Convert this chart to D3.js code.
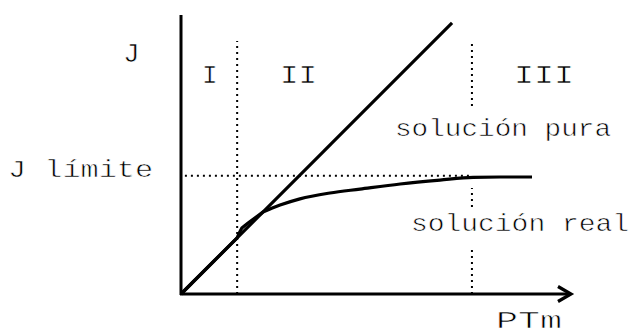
<!DOCTYPE html>
<html>
<head>
<meta charset="utf-8">
<script src="https://cdn.jsdelivr.net/npm/d3@7"></script>
<style>
  html, body { margin: 0; padding: 0; background: #fff; }
  svg { display: block; }
  text { font-family: "Liberation Mono", "Courier New", monospace; fill: #000;
         stroke: #fff; stroke-width: 0.6px; paint-order: fill stroke; }
</style>
</head>
<body>
<svg id="chart" width="629" height="336"></svg>
<script>
// ---- data ----
const pureX = [0, 69.5];
const pureY = [0, 69.5];
const realX = [0, 14.4, 14.9, 15.6, 17.2, 19.2, 21.0, 25.4, 30.5, 38.2, 45.9, 56.2, 66.4, 74.9, 81.8, 90.0];
const realY = [0, 14.4, 15.6, 16.9, 18.2, 19.7, 21.0, 22.8, 24.4, 25.9, 26.9, 28.2, 29.2, 29.9, 30.0, 30.0];
const regionBounds = [14.4, 74.6];
const regionLabels = ["I", "II", "III"];
const jLimite = 30.3;
const axisLabelY = "J";
const axisLabelX = "PTm";
const jLimiteLabel = "J límite";
const seriesLabels = ["solución pura", "solución real"];

// ---- layout ----
const svg = d3.select("#chart");
const x = d3.scaleLinear().domain([0, 100]).range([181, 571]);
const y = d3.scaleLinear().domain([0, 70]).range([294, 21]);

// dotted guides
const dotted = (x1, y1, x2, y2) => svg.append("line")
  .attr("x1", x1).attr("y1", y1).attr("x2", x2).attr("y2", y2)
  .attr("stroke", "#000").attr("stroke-width", 2).attr("stroke-dasharray", "2,4");

dotted(x(regionBounds[0]), y(0), x(regionBounds[0]), y(64.9));
dotted(x(regionBounds[1]), y(0), x(regionBounds[1]), y(11.3));
dotted(x(regionBounds[1]), y(22.3), x(regionBounds[1]), y(27.2));
dotted(x(regionBounds[1]), y(48.2), x(regionBounds[1]), y(64.9));
dotted(x(1), y(jLimite), x(regionBounds[1]), y(jLimite));

// axes
svg.append("line").attr("x1", x(0)).attr("y1", y(0) + 1).attr("x2", x(0)).attr("y2", 15)
  .attr("stroke", "#000").attr("stroke-width", 3);
svg.append("line").attr("x1", x(0) - 1).attr("y1", y(0)).attr("x2", x(100) - 1).attr("y2", y(0))
  .attr("stroke", "#000").attr("stroke-width", 3);
svg.append("path")
  .attr("d", `M${x(100) - 13},${y(0) - 7.5} L${x(100)},${y(0)} L${x(100) - 13},${y(0) + 7.5}`)
  .attr("fill", "none").attr("stroke", "#000").attr("stroke-width", 3.2)
  .attr("stroke-linejoin", "miter");

// series
const pts = d3.zip(realX, realY);
const lin = d3.line().x(d => x(d[0])).y(d => y(d[1]));
const smooth = d3.line().x(d => x(d[0])).y(d => y(d[1])).curve(d3.curveMonotoneX);
svg.append("path").datum(d3.zip(pureX, pureY)).attr("d", lin)
  .attr("fill", "none").attr("stroke", "#000").attr("stroke-width", 3.2);
const split = 6;
const dReal = lin(pts.slice(0, split + 1)) + "L" + smooth(pts.slice(split)).slice(1);
svg.append("path").attr("d", dReal)
  .attr("fill", "none").attr("stroke", "#000").attr("stroke-width", 3.2)
  .attr("stroke-linejoin", "round");

// labels
const label = (t, px, py, len, fs = 24) => {
  const el = svg.append("text").attr("x", px).attr("y", py).attr("font-size", fs).text(t);
  if (len) el.attr("textLength", len).attr("lengthAdjust", "spacingAndGlyphs");
  return el;
};
label(axisLabelY, 123, 62, null, 28);
label(regionLabels[0], 202, 83, null, 26);
label(regionLabels[1], 280, 83, 37, 26);
label(regionLabels[2], 514, 83, 60, 26);
label(jLimiteLabel, 8, 177, 145);
label(seriesLabels[0], 395, 136, 216);
label(seriesLabels[1], 411, 231, 218);
label(axisLabelX, 496, 328, 66, 24);
</script>
</body>
</html>
